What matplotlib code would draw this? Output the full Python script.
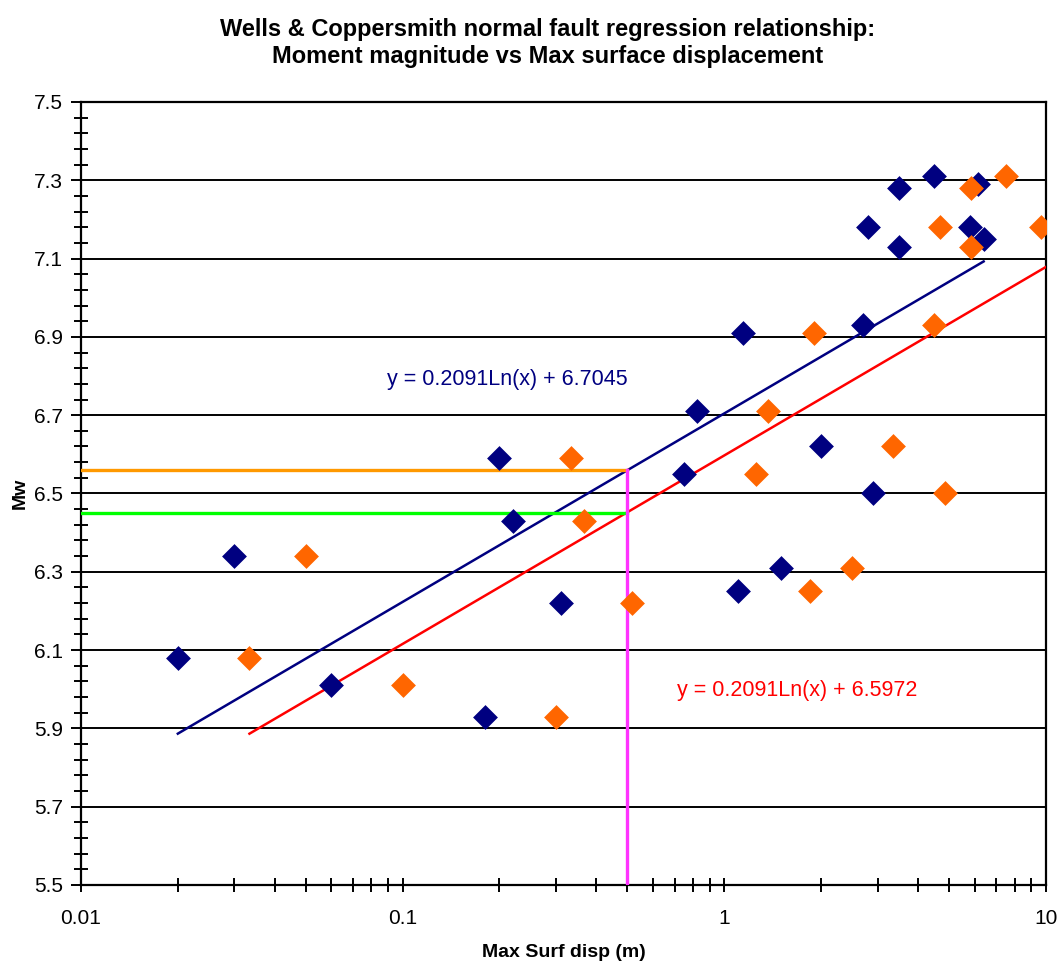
import numpy as np
import matplotlib
matplotlib.use("Agg")
import matplotlib.pyplot as plt
from matplotlib.ticker import FixedLocator, NullFormatter, FuncFormatter, LogLocator

plt.rcParams['font.family'] = ['Liberation Sans', 'DejaVu Sans']

# Observed data (max surface displacement in metres, moment magnitude)
disp_a = [0.02, 0.03, 0.06, 0.18, 0.20, 0.22, 0.31, 0.75, 0.82, 1.10, 1.14,
          1.50, 2.0, 2.7, 2.8, 2.9, 3.5, 3.5, 4.5, 5.8, 6.14, 6.4]
mw_a = [6.08, 6.34, 6.01, 5.93, 6.59, 6.43, 6.22, 6.55, 6.71, 6.25, 6.91,
        6.31, 6.62, 6.93, 7.18, 6.50, 7.28, 7.13, 7.31, 7.18, 7.29, 7.15]

disp_b = [0.0334, 0.05, 0.10, 0.30, 0.334, 0.367, 0.517, 1.25, 1.37, 1.84, 1.90,
          2.50, 3.34, 4.50, 4.67, 4.84, 5.84, 5.84, 7.50, 9.68]
mw_b = [6.08, 6.34, 6.01, 5.93, 6.59, 6.43, 6.22, 6.55, 6.71, 6.25, 6.91,
        6.31, 6.62, 6.93, 7.18, 6.50, 7.28, 7.13, 7.31, 7.18]

# Regression coefficients
slope = 0.2091
icpt_a = 6.7045
icpt_b = 6.5972
fit_range_a = [0.02, 6.4]
fit_range_b = [0.0334, 10.7]

# Reference displacement and its magnitudes
ref_disp = 0.5
ref_mw_a = 6.56
ref_mw_b = 6.45

y_ticks = [5.5, 5.7, 5.9, 6.1, 6.3, 6.5, 6.7, 6.9, 7.1, 7.3, 7.5]
x_ticks = [0.01, 0.1, 1, 10]
x_tick_labels = ['0.01', '0.1', '1', '10']

fig = plt.figure(figsize=(10.63, 9.71), dpi=100)
ax = fig.add_axes([0.0762, 0.0886, 0.9078, 0.8064])

ax.set_xscale('log')
ax.set_xlim(0.01, 10)
ax.set_ylim(5.5, 7.5)

# horizontal gridlines
for yv in y_ticks:
    ax.axhline(yv, color='black', lw=1.4, zorder=1)

# regression lines
xa = np.geomspace(fit_range_a[0], fit_range_a[1], 200)
xb = np.geomspace(fit_range_b[0], fit_range_b[1], 200)
ax.plot(xa, slope * np.log(xa) + icpt_a, color='#000080', lw=1.8, zorder=3)
ax.plot(xb, slope * np.log(xb) + icpt_b, color='#ff0000', lw=1.8, zorder=3)

# reference lines
ax.plot([0.01, ref_disp], [ref_mw_a, ref_mw_a], color='#ff9900', lw=2.4, zorder=3)
ax.plot([0.01, ref_disp], [ref_mw_b, ref_mw_b], color='#00ff00', lw=2.4, zorder=3)
ax.plot([ref_disp, ref_disp], [5.5, ref_mw_a], color='#ff33ff', lw=2.4, zorder=3)

# data points
ax.scatter(disp_a, mw_a, marker='D', s=160, color='#000080', linewidths=0, zorder=4)
ax.scatter(disp_b, mw_b, marker='D', s=160, color='#ff6600', linewidths=0, zorder=4)

# equations
ax.text(0.0893, 6.79, 'y = 0.2091Ln(x) + 6.7045', color='#000080', fontsize=15.5,
        va='center', ha='left')
ax.text(0.712, 5.996, 'y = 0.2091Ln(x) + 6.5972', color='#ff0000', fontsize=15.5,
        va='center', ha='left')

# ticks
ax.yaxis.set_major_locator(FixedLocator(y_ticks))
ax.yaxis.set_minor_locator(FixedLocator(np.arange(5.5, 7.5001, 0.04)))
ax.yaxis.set_major_formatter(FuncFormatter(lambda v, p: f'{v:.1f}'))
ax.set_xticks(x_ticks)
ax.set_xticklabels(x_tick_labels)
ax.xaxis.set_minor_locator(LogLocator(base=10, subs=np.arange(2, 10)))
ax.xaxis.set_minor_formatter(NullFormatter())

ax.tick_params(axis='y', which='major', direction='out', length=7, width=1.4,
               labelsize=15, pad=6)
ax.tick_params(axis='y', which='minor', direction='inout', length=10, width=1.4)
ax.tick_params(axis='x', which='major', direction='inout', length=10, width=1.4,
               labelsize=15, pad=12)
ax.tick_params(axis='x', which='minor', direction='inout', length=10, width=1.4)
ax.tick_params(right=False, top=False, which='both')

for sp in ax.spines.values():
    sp.set_color('black')
    sp.set_linewidth(1.6)

ax.set_xlabel('Max Surf disp (m)', fontsize=14, fontweight='bold', labelpad=12)
ax.set_ylabel('Mw', fontsize=14, fontweight='bold', labelpad=4)

fig.text(0.515, 0.956, 'Wells & Coppersmith normal fault regression relationship:\n'
         'Moment magnitude vs Max surface displacement',
         ha='center', va='center', fontsize=17, fontweight='bold', linespacing=1.2)

fig.savefig('out.png', dpi=100)
